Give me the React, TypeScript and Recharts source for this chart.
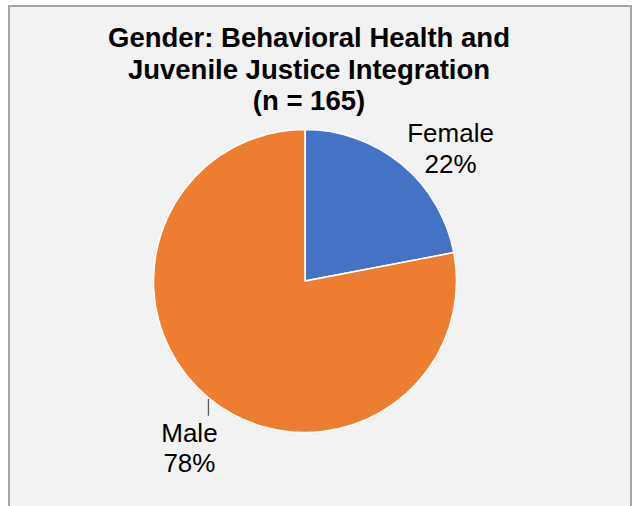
import React from "react";
import { PieChart, Pie, Cell } from "recharts";

const categories = ["Female", "Male"];
const percentages = [22, 78];
const colors = ["#4472C4", "#ED7D31"];
const titleLines = ["Gender: Behavioral Health and", "Juvenile Justice Integration", "(n = 165)"];

const data = categories.map((name, i) => ({ name, value: percentages[i] }));

const FONT = "'Liberation Sans', Arial, sans-serif";
const RADIAN = Math.PI / 180;

const renderLabel = (props: any) => {
  const { cx, cy, midAngle, outerRadius, index, name, value } = props;
  const x0 = cx + outerRadius * Math.cos(-midAngle * RADIAN);
  const y0 = cy + outerRadius * Math.sin(-midAngle * RADIAN);
  const pct = `${value}%`;
  if (index === 0) {
    const tx = x0 + 49;
    return (
      <g>
        <text x={tx} y={y0 - 22} textAnchor="middle" fontFamily={FONT} fontSize={26} fill="#000">{name}</text>
        <text x={tx} y={y0 + 9} textAnchor="middle" fontFamily={FONT} fontSize={26} fill="#000">{pct}</text>
      </g>
    );
  }
  const tx = x0 - 19;
  return (
    <g>
      <line x1={x0} y1={y0 + 1} x2={x0} y2={y0 + 18} stroke="#595959" strokeWidth={1.3} />
      <text x={tx} y={y0 + 44} textAnchor="middle" fontFamily={FONT} fontSize={26} fill="#000">{name}</text>
      <text x={tx} y={y0 + 74} textAnchor="middle" fontFamily={FONT} fontSize={26} fill="#000">{pct}</text>
    </g>
  );
};

export default function App() {
  return (
    <div
      style={{
        position: "absolute",
        left: 8,
        top: 5,
        width: 624,
        height: 501,
        boxSizing: "border-box",
        borderTop: "2px solid #a6a6a6",
        borderLeft: "2px solid #a6a6a6",
        borderRight: "2px solid #a6a6a6",
        background: "#f2f2f2",
      }}
    >
      <svg width={620} height={120} style={{ position: "absolute", left: 0, top: 0 }}>
        {titleLines.map((t, i) => (
          <text
            key={i}
            x={299}
            y={40 + i * 31.5}
            textAnchor="middle"
            fontFamily={FONT}
            fontWeight="bold"
            fontSize={27.5}
            fill="#000"
          >
            {t}
          </text>
        ))}
      </svg>
      <div style={{ position: "absolute", left: 0, top: 0 }}>
        <PieChart width={620} height={499} margin={{ top: 0, right: 0, bottom: 0, left: 0 }}>
          <Pie
            data={data}
            dataKey="value"
            nameKey="name"
            cx={295}
            cy={274}
            outerRadius={151.5}
            startAngle={90}
            endAngle={-270}
            stroke="#ffffff"
            strokeWidth={1.5}
            label={renderLabel}
            labelLine={false}
            isAnimationActive={false}
          >
            {data.map((d, i) => (
              <Cell key={d.name} fill={colors[i]} />
            ))}
          </Pie>
        </PieChart>
      </div>
    </div>
  );
}
